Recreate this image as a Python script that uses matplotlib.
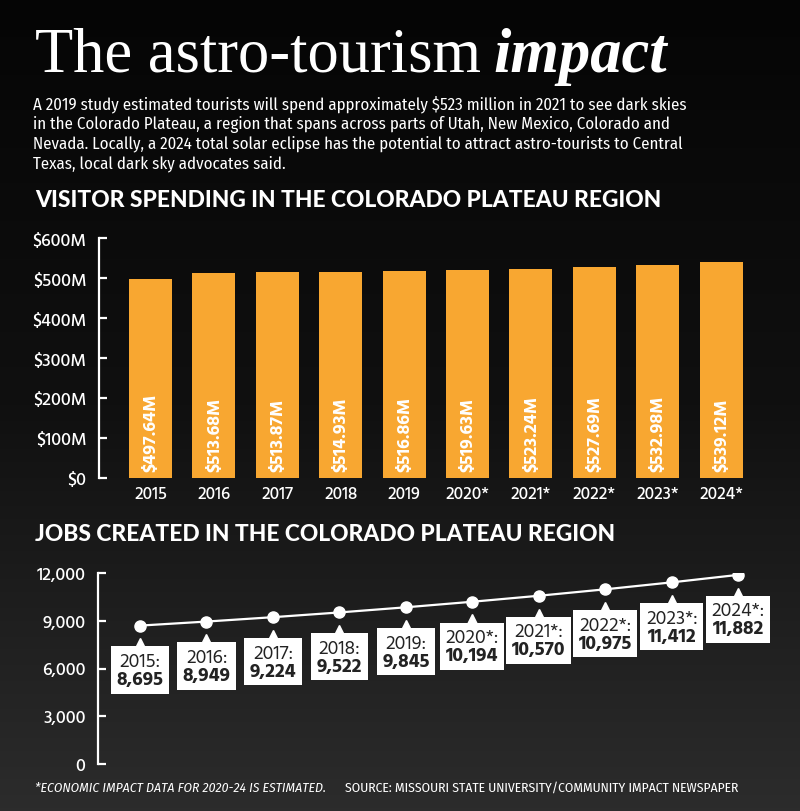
import numpy as np
import matplotlib
matplotlib.use("Agg")
import matplotlib.pyplot as plt
from matplotlib.colors import LinearSegmentedColormap
from matplotlib.offsetbox import TextArea, VPacker, AnnotationBbox
from matplotlib import transforms

# ---------------- data ----------------
years = ["2015", "2016", "2017", "2018", "2019",
         "2020*", "2021*", "2022*", "2023*", "2024*"]
spending = [497.64, 513.68, 513.87, 514.93, 516.86,
            519.63, 523.24, 527.69, 532.98, 539.12]
spend_ticks = [0, 100, 200, 300, 400, 500, 600]
spend_tick_labels = ["$0", "$100M", "$200M", "$300M", "$400M", "$500M", "$600M"]
jobs = [8695, 8949, 9224, 9522, 9845, 10194, 10570, 10975, 11412, 11882]
job_ticks = [0, 3000, 6000, 9000, 12000]
job_tick_labels = ["0", "3,000", "6,000", "9,000", "12,000"]

title_main = "The astro-tourism"
title_em = "impact"
body = ("A 2019 study estimated tourists will spend approximately $523 million in 2021 to see dark skies\n"
        "in the Colorado Plateau, a region that spans across parts of Utah, New Mexico, Colorado and\n"
        "Nevada. Locally, a 2024 total solar eclipse has the potential to attract astro-tourists to Central\n"
        "Texas, local dark sky advocates said.")
head1 = "VISITOR SPENDING IN THE COLORADO PLATEAU REGION"
head2 = "JOBS CREATED IN THE COLORADO PLATEAU REGION"
note = "*ECONOMIC IMPACT DATA FOR 2020-24 IS ESTIMATED."
source = "SOURCE: MISSOURI STATE UNIVERSITY/COMMUNITY IMPACT NEWSPAPER"

# ---------------- styles ----------------
SANS = ["Hind", "Fira Sans", "DejaVu Sans"]
COND = ["Fira Sans Condensed", "DejaVu Sans"]
HEAD = ["Lato Black", "Lato", "DejaVu Sans"]
SERIF = ["Liberation Serif", "DejaVu Serif"]
BAR = "#F8A731"
BOXTXT = "#232323"

W, H = 800, 812
fig = plt.figure(figsize=(W / 100, H / 100), dpi=100)

# background gradient
bg = fig.add_axes([0, 0, 1, 1], zorder=-10)
cmap = LinearSegmentedColormap.from_list("sky", ["#050505", "#101010", "#2c2c2c"])
grad = np.linspace(0, 1, 256).reshape(-1, 1)
bg.imshow(grad, aspect="auto", cmap=cmap, extent=[0, 1, 0, 1], origin="upper")
bg.set_axis_off()

def fx(px):
    return px / W

def fy(py):
    return 1 - py / H

# title
renderer = fig.canvas.get_renderer()
t1 = fig.text(fx(35), fy(72), title_main, family=SERIF, fontsize=45,
              color="white", va="baseline", ha="left")
bb = t1.get_window_extent(renderer)
fig.text(bb.x1 / W + fx(12), fy(72), title_em, family=SERIF, fontsize=45,
         fontweight="bold", style="italic", color="white", va="baseline", ha="left")

fig.text(fx(33), fy(95), body, family=COND, fontsize=12.1, color="white",
         va="top", ha="left", linespacing=1.24)

fig.text(fx(35), fy(201), head1, family=HEAD, fontweight="black", fontsize=16.4,
         color="white", va="center", ha="left")
fig.text(fx(35), fy(535), head2, family=HEAD, fontweight="black", fontsize=16.4,
         color="white", va="center", ha="left")

fig.text(fx(35), fy(788), note, family=COND, style="italic", fontsize=9.8,
         color="white", va="center", ha="left")
fig.text(fx(345), fy(788), source, family=COND, fontsize=9.8,
         color="white", va="center", ha="left")

# ---------------- bar chart ----------------
x = np.arange(len(years))
ax1 = fig.add_axes([fx(99), fy(479), fx(760) - fx(99), fy(239) - fy(479)])
ax1.patch.set_alpha(0)
ax1.bar(x, spending, width=0.678, color=BAR, zorder=2)
ax1.set_xlim(-0.812, 9.614)
ax1.set_ylim(0, 600)
for s in ["top", "right", "bottom"]:
    ax1.spines[s].set_visible(False)
ax1.spines["left"].set_color("white")
ax1.spines["left"].set_linewidth(1.6)
ax1.set_yticks(spend_ticks, spend_tick_labels)
ax1.set_xticks(x, years)
ax1.tick_params(axis="y", direction="in", length=6, width=1.6, color="white",
                labelcolor="white", labelsize=13, pad=9)
ax1.tick_params(axis="x", length=0, labelcolor="white", labelsize=12.5, pad=6)
for lab in ax1.get_xticklabels() + ax1.get_yticklabels():
    lab.set_family(SANS)
    lab.set_fontweight("medium")
for i, v in enumerate(spending):
    ax1.annotate(f"${v:.2f}M", (x[i], 0), xytext=(0, 5), textcoords="offset points",
                 rotation=90, ha="center", va="bottom", color="white",
                 fontweight="bold", fontsize=13, family=SANS, zorder=3)

# ---------------- line chart ----------------
ax2 = fig.add_axes([fx(98), fy(765), fx(778) - fx(98), fy(574) - fy(765)])
ax2.patch.set_alpha(0)
ax2.set_xlim(-0.632, 9.6)
ax2.set_ylim(0, 12000)
ax2.plot(x, jobs, color="white", lw=1.6, marker="o", ms=8, zorder=3)
for s in ["top", "right", "bottom"]:
    ax2.spines[s].set_visible(False)
ax2.spines["left"].set_color("white")
ax2.spines["left"].set_linewidth(1.6)
ax2.set_yticks(job_ticks, job_tick_labels)
ax2.set_xticks([])
ax2.tick_params(axis="y", direction="in", length=6, width=1.6, color="white",
                labelcolor="white", labelsize=13, pad=9)
for lab in ax2.get_yticklabels():
    lab.set_family(SANS)
    lab.set_fontweight("medium")

tri = ax2.transData + transforms.ScaledTranslation(0, -13.5 / 72, fig.dpi_scale_trans)
ax2.plot(x, jobs, ls="none", marker="^", ms=8.5, color="white", transform=tri,
         zorder=4, clip_on=False)
for i, (yr, v) in enumerate(zip(years, jobs)):
    a = TextArea(f"{yr}:", textprops=dict(color=BOXTXT, fontsize=14, family=SANS))
    b = TextArea(f"{v:,}", textprops=dict(color=BOXTXT, fontsize=14,
                                          fontweight="bold", family=SANS))
    pack = VPacker(children=[a, b], align="center", pad=0, sep=0)
    ab = AnnotationBbox(pack, (x[i], v), xybox=(0, -19), xycoords="data",
                        boxcoords="offset points", box_alignment=(0.5, 1),
                        frameon=True, pad=0.4,
                        bboxprops=dict(facecolor="white", edgecolor="none"),
                        zorder=5, annotation_clip=False)
    ax2.add_artist(ab)

fig.savefig("out.png", dpi=100, facecolor="black")
